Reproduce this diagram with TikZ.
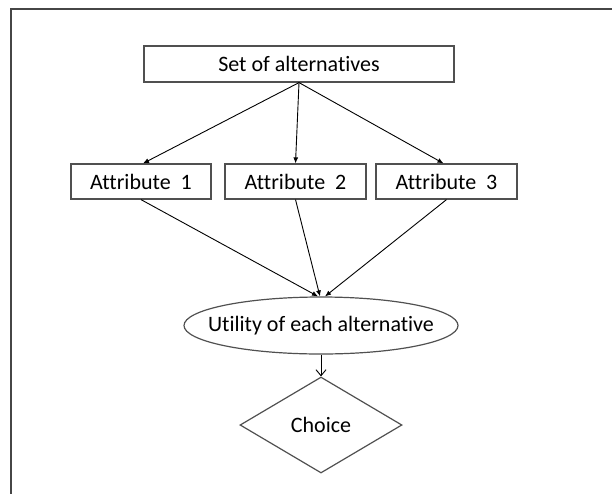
\documentclass[tikz,border=0pt]{standalone}
\usepackage{fontspec}
\setmainfont{Carlito}[Ligatures={NoCommon}]
\usetikzlibrary{shapes.geometric,arrows.meta}
\definecolor{framegray}{RGB}{70,70,70}
\definecolor{boxgray}{RGB}{80,80,80}
\tikzset{
  lbl/.style={font=\fontsize{22pt}{26pt}\selectfont, text=black},
  rectbox/.style={lbl, draw=boxgray, line width=1.2pt, rectangle, inner sep=0pt},
  ellbox/.style={lbl, draw=boxgray, line width=1.2pt, ellipse, inner xsep=-18pt, inner ysep=0pt, minimum width=274pt, minimum height=57pt},
  dmdbox/.style={lbl, draw=boxgray, line width=1.2pt, diamond, aspect=1.69, inner sep=0pt, minimum width=162pt, minimum height=96pt},
  arr/.style={draw=black, line width=0.9pt, -{Latex[length=6pt,width=5pt]}},
  openarr/.style={draw=black, line width=0.9pt, -{Straight Barb[length=6pt,width=10pt]}}
}
\begin{document}
\begin{tikzpicture}[x=1pt,y=-1pt]
\useasboundingbox (0,0) rectangle (612,493);
\draw[framegray, line width=2pt] (11,500) -- (11,9) -- (620,9);
\node[rectbox, minimum width=310pt, minimum height=36pt] (top) at (299,64) {Set of alternatives};
\node[rectbox, minimum width=140pt, minimum height=35pt] (a1) at (141,181.5) {Attribute~~1};
\node[rectbox, minimum width=141pt, minimum height=35pt] (a2) at (295.5,181.5) {Attribute~~2};
\node[rectbox, minimum width=141pt, minimum height=35pt] (a3) at (446.5,181.5) {Attribute~~3};
\node[ellbox] (u) at (321,325.5) {Utility of each alternative};
\node[dmdbox] (c) at (321,425) {Choice};
\draw[arr] (top.south) -- ([xshift=2pt]a1.north);
\draw[arr] (top.south) -- (a2.north);
\draw[arr] (top.south) -- ([xshift=-3pt]a3.north);
\draw[arr] (a1.south) -- ([xshift=-3pt]u.north);
\draw[arr] (a2.south) -- ([xshift=-1pt]u.north);
\draw[arr] (a3.south) -- ([xshift=4pt]u.north);
\draw[openarr] (u.south) -- (c.north);
\end{tikzpicture}
\end{document}
